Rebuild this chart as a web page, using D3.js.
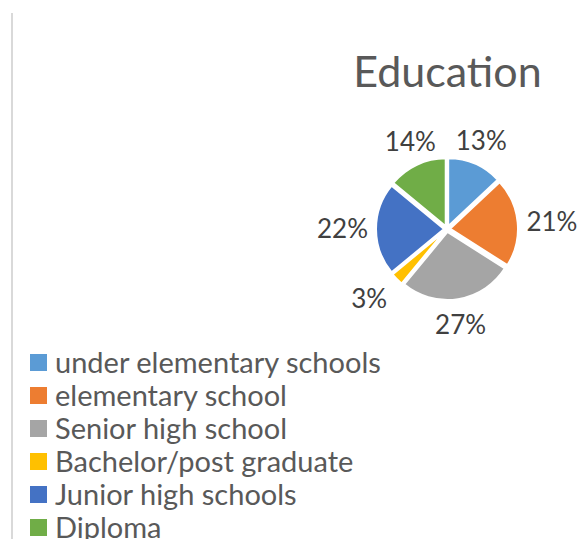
<!DOCTYPE html>
<html><head><meta charset="utf-8">
<script src="https://cdn.jsdelivr.net/npm/d3@7"></script>
<style>body{margin:0;background:#fff;}svg{display:block;}</style>
</head><body>
<script>
const categories = ["under elementary schools","elementary school","Senior high school","Bachelor/post graduate","Junior high schools","Diploma"];
const values = [13,21,27,3,22,14];
const colors = ["#5B9BD5","#ED7D31","#A5A5A5","#FFC000","#4472C4","#70AD47"];
const title = "Education";

const W=579,H=539;
const svg=d3.select("body").append("svg").attr("width",W).attr("height",H);
const font="Lato, 'Open Sans', sans-serif";

svg.append("line").attr("x1",12).attr("x2",12).attr("y1",13).attr("y2",H).attr("stroke","#d9d9d9").attr("stroke-width",2);

svg.append("text").attr("x",447.5).attr("y",87).attr("text-anchor","middle")
  .attr("font-family",font).attr("font-size",43).attr("fill","#595959").text(title);

const cx=447, cy=229, r=68, explode=3;
const pie=d3.pie().sort(null).value(d=>d)(values);
const arc=d3.arc().innerRadius(0).outerRadius(r);
const color=d3.scaleOrdinal().domain(categories).range(colors);
const g=svg.append("g").attr("transform",`translate(${cx},${cy})`);
const ss=(e0,e1,x)=>{const t=Math.max(0,Math.min(1,(x-e0)/(e1-e0)));return t*t*(3-2*t);};
const lfs=26, capH=lfs*0.72;
pie.forEach((p,i)=>{
  const a=(p.startAngle+p.endAngle)/2;
  g.append("path").attr("d",arc(p))
   .attr("transform",`translate(${Math.sin(a)*explode},${-Math.cos(a)*explode})`)
   .attr("fill",color(categories[i])).attr("stroke","#fff").attr("stroke-width",2);
  const t=g.append("text").attr("font-family",font).attr("font-size",lfs).attr("fill","#404040")
    .attr("text-anchor","middle").text(values[i]+"%");
  const w=t.node().getComputedTextLength();
  const s=Math.sin(a), c=Math.cos(a);
  const R=79+8*Math.abs(c);
  const px=s*R, py=-c*R;
  const lx=px+Math.sign(s)*w/2*ss(0.45,0.7,Math.abs(s));
  const ly=py-Math.sign(c)*capH/2*ss(0.45,0.7,Math.abs(c));
  t.attr("x",lx).attr("y",ly+capH/2);
});

const lg=svg.append("g");
categories.forEach((c,i)=>{
  const y=362.5+i*33;
  lg.append("rect").attr("x",30).attr("y",y-8.5).attr("width",17).attr("height",17).attr("fill",color(c));
  lg.append("text").attr("x",55).attr("y",y+10)
    .attr("font-family",font).attr("font-size",29).attr("fill","#595959").text(c);
});
</script>
</body></html>
